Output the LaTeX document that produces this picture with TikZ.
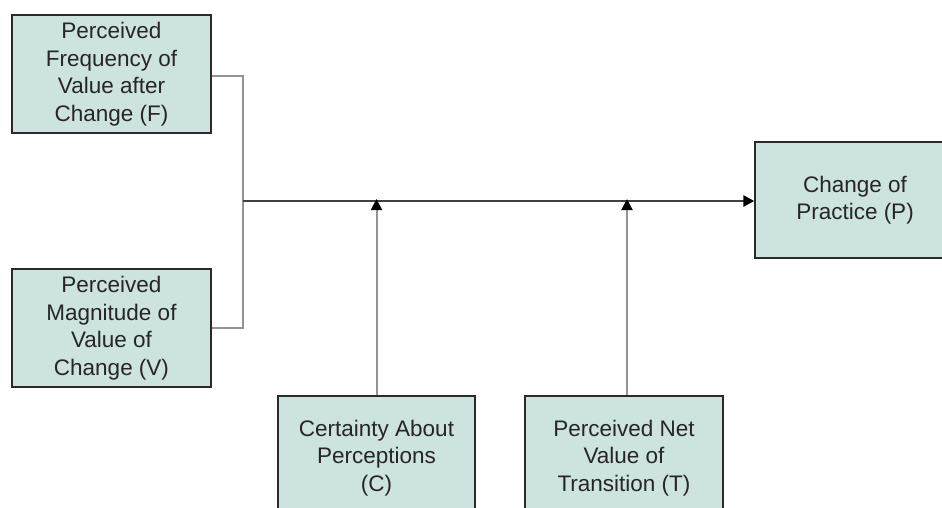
\documentclass[tikz,border=0pt]{standalone}
\usepackage{fontspec}
\setmainfont{Liberation Sans}
\usetikzlibrary{arrows.meta}
\definecolor{boxfill}{HTML}{CDE3E0}
\definecolor{boxline}{HTML}{2A2A2A}
\definecolor{linkgray}{HTML}{939393}
\definecolor{maingray}{HTML}{404040}
\tikzset{
  factor/.style={draw=boxline, line width=1.4pt, fill=boxfill, align=center,
    inner sep=0pt, font=\fontsize{22.5}{27.5}\selectfont, text=black!85},
  link/.style={draw=linkgray, line width=2pt},
  mainline/.style={draw=maingray, line width=2.6pt},
  tip/.style={-{Triangle[length=11pt,width=11pt,fill=black,color=black]}}
}
\begin{document}
\begin{tikzpicture}[x=1pt,y=-1pt]
\useasboundingbox (0,0) rectangle (942,507);
\node[factor, minimum width=199pt, minimum height=118pt] (F) at (111.5,74) {Perceived\\Frequency of\\Value after\\Change (F)};
\node[factor, minimum width=199pt, minimum height=118pt] (V) at (111.5,328) {Perceived\\Magnitude of\\Value of\\Change (V)};
\node[factor, minimum width=197pt, minimum height=124pt] (C) at (376.5,458) {Certainty About\\Perceptions\\(C)};
\node[factor, minimum width=198pt, minimum height=124pt] (T) at (624,458) {Perceived Net\\Value of\\Transition (T)};
\node[factor, minimum width=200pt, minimum height=116pt] (P) at (855,200) {Change of\\Practice (P)};
\coordinate (J) at (243,201);
\coordinate (JC) at (C.north |- J);
\coordinate (JT) at ([xshift=3pt]T.north |- J);
\draw[link] (F.east |- 0,76) -| (J);
\draw[link] (V.east |- 0,328) -| (J);
\draw[mainline, tip] (J) -- (J -| P.west);
\draw[link, tip] (C.north) -- ([yshift=2pt]JC);
\draw[link, tip] ([xshift=3pt]T.north) -- ([yshift=2pt]JT);
\end{tikzpicture}
\end{document}
